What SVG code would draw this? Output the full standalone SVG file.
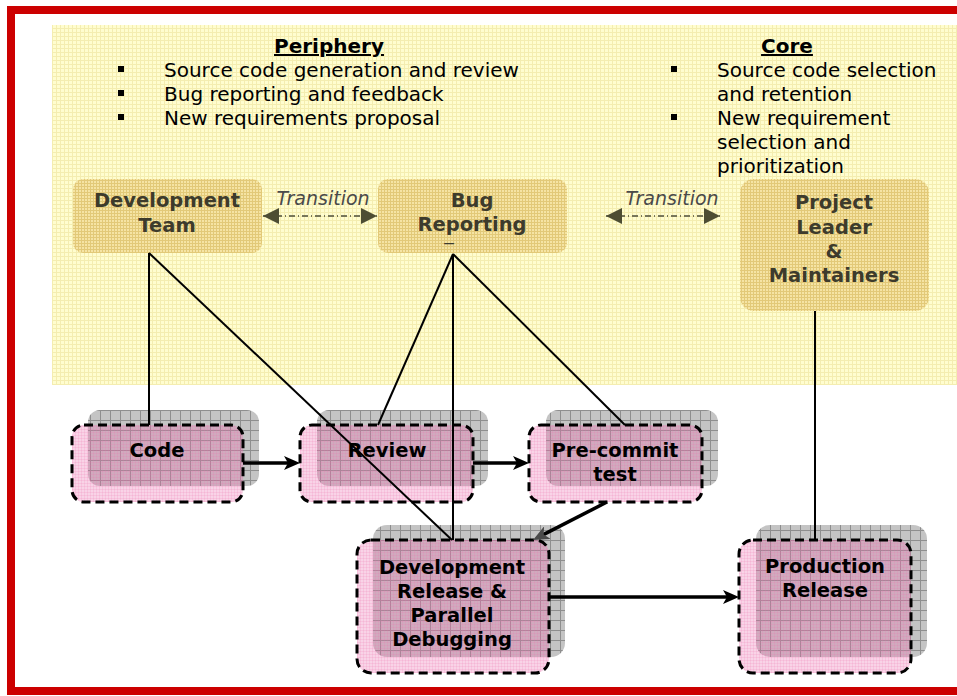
<svg xmlns="http://www.w3.org/2000/svg" width="957" height="696" viewBox="0 0 957 696">
<defs>
  <style>
    .t{font-family:"DejaVu Sans",Verdana,sans-serif}
    .hdr{font-weight:bold;font-size:20px;fill:#000;text-anchor:middle;text-decoration:underline}
    .bul{font-size:20px;fill:#000}
    .tan{font-weight:bold;font-size:19.5px;fill:#3D3B2C;text-anchor:middle}
    .trans{font-style:italic;font-size:19px;fill:#4A4A4A;text-anchor:middle}
    .lbl{font-weight:bold;font-size:19.5px;fill:#000;text-anchor:middle}
    .tanbox{fill:url(#tgrid)}
    .gbox{fill:url(#ggrid)}
    .pbox{fill:url(#pgrid)}
    .dash{fill:none;stroke:#000;stroke-width:3;stroke-dasharray:9 5}
    .conn{fill:none;stroke:#000;stroke-width:2}
    .flow{fill:none;stroke:#000;stroke-width:3.5}
    .tr{fill:none;stroke:#4D4D3A;stroke-width:1.5;stroke-dasharray:6 3 1 3}
    .sq{fill:#000}
  </style>
  <pattern id="ygrid" width="4" height="4" patternUnits="userSpaceOnUse">
    <rect width="4" height="4" fill="#FFFDCF"/>
    <path d="M0,0.5H4M0.5,0V4" stroke="#F4EDB0" stroke-width="1"/>
  </pattern>
  <pattern id="tgrid" width="3" height="3" patternUnits="userSpaceOnUse">
    <rect width="3" height="3" fill="#F5E4A4"/>
    <path d="M0,0.5H3M0.5,0V3" stroke="#E2C978" stroke-width="1"/>
  </pattern>
  <pattern id="ggrid" width="10" height="10" patternUnits="userSpaceOnUse">
    <rect width="10" height="10" fill="#C4C4C4"/>
    <path d="M0,0.5H10M0.5,0V10" stroke="#8E8E8E" stroke-width="1"/>
  </pattern>
  <pattern id="pgrid" width="3" height="3" patternUnits="userSpaceOnUse">
    <rect width="3" height="3" fill="#EB6EAF" fill-opacity="0.3"/>
    <path d="M0,0.5H3M0.5,0V3" stroke="#EB6EAF" stroke-opacity="0.16" stroke-width="1"/>
  </pattern>
  <marker id="flowHead" viewBox="0 0 16 14" markerWidth="16" markerHeight="14" refX="6" refY="7" orient="auto" markerUnits="userSpaceOnUse">
    <path d="M0,0 L16,7 L0,14 L4,7 z" fill="#000"/>
  </marker>
  <marker id="flowHeadGray" viewBox="0 0 16 14" markerWidth="16" markerHeight="14" refX="6" refY="7" orient="auto" markerUnits="userSpaceOnUse">
    <path d="M0,0 L16,7 L0,14 L4,7 z" fill="#4A4A4A"/>
  </marker>
  <marker id="trHead" viewBox="0 0 16 16" markerWidth="16" markerHeight="16" refX="16" refY="8" orient="auto-start-reverse" markerUnits="userSpaceOnUse">
    <path d="M0,0 L16,8 L0,16 z" fill="#4D4D33"/>
  </marker>
</defs>

<rect width="957" height="696" fill="#FFFFFF"/>
<rect x="11" y="10" width="990" height="681" fill="none" stroke="#CC0000" stroke-width="8"/>

<g id="panel">
  <rect x="52" y="25" width="905" height="360" fill="url(#ygrid)"/>
  <g class="t">
    <text class="hdr" x="329" y="53">Periphery</text>
    <rect class="sq" x="118" y="66" width="6" height="6"/>
    <rect class="sq" x="118" y="90" width="6" height="6"/>
    <rect class="sq" x="118" y="114" width="6" height="6"/>
    <text class="bul" x="164" y="77">Source code generation and review</text>
    <text class="bul" x="164" y="101">Bug reporting and feedback</text>
    <text class="bul" x="164" y="125">New requirements proposal</text>

    <text class="hdr" x="787" y="53">Core</text>
    <rect class="sq" x="671" y="66" width="6" height="6"/>
    <rect class="sq" x="671" y="114" width="6" height="6"/>
    <text class="bul" x="717" y="77">Source code selection</text>
    <text class="bul" x="717" y="101">and retention</text>
    <text class="bul" x="717" y="125">New requirement</text>
    <text class="bul" x="717" y="149">selection and</text>
    <text class="bul" x="717" y="173">prioritization</text>
  </g>
</g>

<g id="n-devteam" class="t">
  <rect class="tanbox" x="73" y="179" width="189" height="74" rx="10"/>
  <text class="tan" x="167" y="207">Development</text>
  <text class="tan" x="167" y="232">Team</text>
</g>
<g id="n-bug" class="t">
  <rect class="tanbox" x="378" y="179" width="189" height="74" rx="10"/>
  <text class="tan" x="472" y="207">Bug</text>
  <text class="tan" x="472" y="231">Reporting</text>
  <text class="tan" x="449" y="247" style="font-size:11px">—</text>
</g>
<g id="n-leader" class="t">
  <rect class="tanbox" x="740" y="179" width="189" height="132" rx="14"/>
  <text class="tan" x="834" y="209">Project</text>
  <text class="tan" x="834" y="234">Leader</text>
  <text class="tan" x="834" y="258">&amp;</text>
  <text class="tan" x="834" y="282">Maintainers</text>
</g>

<g id="n-code" class="t">
  <rect class="gbox" x="88" y="410" width="171" height="76" rx="12"/>
  <rect class="pbox" x="72" y="425" width="171" height="77" rx="12"/>
  <rect class="dash" x="72" y="425" width="171" height="77" rx="12"/>
  <text class="lbl" x="157" y="457">Code</text>
</g>
<g id="n-review" class="t">
  <rect class="gbox" x="317" y="410" width="171" height="76" rx="12"/>
  <rect class="pbox" x="300" y="425" width="173" height="77" rx="12"/>
  <rect class="dash" x="300" y="425" width="173" height="77" rx="12"/>
  <text class="lbl" x="387" y="457">Review</text>
</g>
<g id="n-precommit" class="t">
  <rect class="gbox" x="546" y="410" width="172" height="76" rx="12"/>
  <rect class="pbox" x="529" y="425" width="173" height="77" rx="12"/>
  <rect class="dash" x="529" y="425" width="173" height="77" rx="12"/>
  <text class="lbl" x="615" y="457">Pre-commit</text>
  <text class="lbl" x="615" y="481">test</text>
</g>
<g id="n-devrelease" class="t">
  <rect class="gbox" x="373" y="525" width="192" height="132" rx="14"/>
  <rect class="pbox" x="357" y="540" width="192" height="133" rx="14"/>
  <rect class="dash" x="357" y="540" width="192" height="133" rx="14"/>
  <text class="lbl" x="452" y="574">Development</text>
  <text class="lbl" x="452" y="598">Release &amp;</text>
  <text class="lbl" x="452" y="622">Parallel</text>
  <text class="lbl" x="452" y="646">Debugging</text>
</g>
<g id="n-production" class="t">
  <rect class="gbox" x="756" y="525" width="171" height="132" rx="14"/>
  <rect class="pbox" x="739" y="540" width="172" height="133" rx="14"/>
  <rect class="dash" x="739" y="540" width="172" height="133" rx="14"/>
  <text class="lbl" x="825" y="573">Production</text>
  <text class="lbl" x="825" y="597">Release</text>
</g>

<g id="connectors">
  <line class="tr" x1="263" y1="216" x2="377" y2="216" marker-start="url(#trHead)" marker-end="url(#trHead)"/>
  <line class="tr" x1="606" y1="216" x2="720" y2="216" marker-start="url(#trHead)" marker-end="url(#trHead)"/>
  <g class="t">
    <text class="trans" x="323" y="205">Transition</text>
    <text class="trans" x="672" y="205">Transition</text>
  </g>
  <path class="conn" d="M149,253 V425"/>
  <path class="conn" d="M149,253 L452,540" stroke-width="1.6"/>
  <path class="conn" d="M453,254 L378,425"/>
  <path class="conn" d="M453,254 V540"/>
  <path class="conn" d="M453,254 L625,425"/>
  <path class="conn" d="M815,311 V540"/>
  <path class="flow" d="M243,463 H290" marker-end="url(#flowHead)"/>
  <path class="flow" d="M473,463 H519" marker-end="url(#flowHead)"/>
  <path class="flow" d="M607,502 L541.9,535.4" marker-end="url(#flowHeadGray)"/>
  <path class="flow" d="M549,597 H729" marker-end="url(#flowHead)"/>
</g>
</svg>
